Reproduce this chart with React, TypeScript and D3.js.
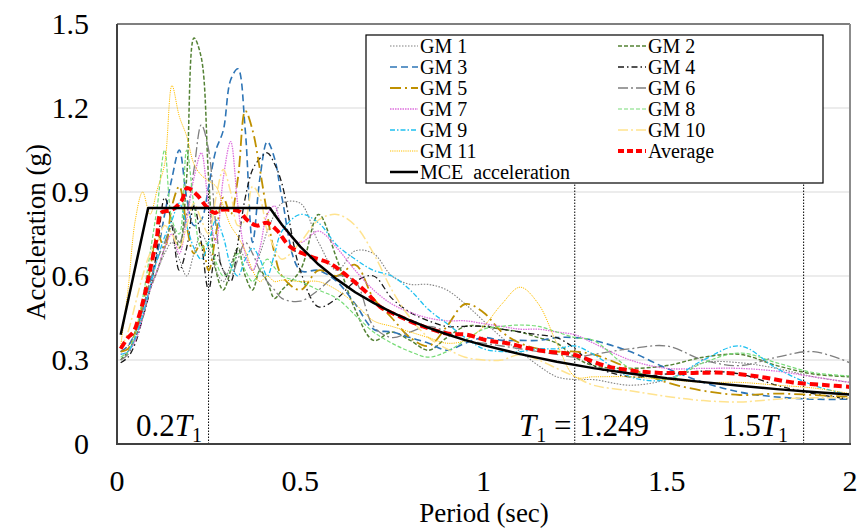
import React from "react";
import * as d3 from "d3";

const periods = [0.01, 0.03, 0.05, 0.07, 0.09, 0.11, 0.13, 0.15, 0.17, 0.19, 0.21, 0.23, 0.25, 0.27, 0.29, 0.31, 0.33, 0.35, 0.37, 0.39, 0.41, 0.43, 0.45, 0.5, 0.55, 0.6, 0.65, 0.7, 0.75, 0.8, 0.85, 0.9, 0.95, 1.0, 1.05, 1.1, 1.15, 1.2, 1.25, 1.3, 1.4, 1.5, 1.6, 1.7, 1.8, 1.9, 2.0];

const gm1 = [0.33, 0.35, 0.40, 0.48, 0.56, 0.62, 0.68, 0.72, 0.66, 0.60, 0.68, 0.75, 0.70, 0.62, 0.58, 0.64, 0.70, 0.66, 0.62, 0.68, 0.76, 0.82, 0.86, 0.86, 0.72, 0.62, 0.69, 0.68, 0.60, 0.57, 0.57, 0.55, 0.50, 0.44, 0.38, 0.33, 0.28, 0.24, 0.23, 0.23, 0.21, 0.23, 0.29, 0.29, 0.27, 0.24, 0.22];
const gm2 = [0.30, 0.33, 0.38, 0.45, 0.55, 0.62, 0.70, 0.78, 0.70, 0.95, 1.45, 1.38, 0.95, 0.62, 0.55, 0.62, 0.70, 0.60, 0.55, 0.62, 0.58, 0.52, 0.55, 0.62, 0.82, 0.66, 0.48, 0.37, 0.40, 0.37, 0.335, 0.38, 0.42, 0.42, 0.41, 0.40, 0.38, 0.36, 0.31, 0.28, 0.27, 0.28, 0.31, 0.32, 0.28, 0.25, 0.24];
const gm3 = [0.33, 0.35, 0.40, 0.48, 0.58, 0.68, 0.82, 0.95, 1.05, 0.88, 0.78, 0.80, 0.92, 1.05, 1.12, 1.30, 1.34, 1.12, 0.72, 0.95, 1.08, 1.02, 0.88, 0.62, 0.62, 0.58, 0.50, 0.41, 0.40, 0.38, 0.36, 0.335, 0.36, 0.38, 0.37, 0.37, 0.37, 0.38, 0.38, 0.37, 0.33, 0.27, 0.22, 0.185, 0.168, 0.16, 0.16];
const gm4 = [0.29, 0.31, 0.36, 0.45, 0.55, 0.70, 0.88, 0.78, 0.62, 0.70, 0.85, 0.72, 0.55, 0.68, 0.62, 0.58, 0.72, 0.88, 0.98, 1.02, 1.04, 1.00, 0.93, 0.62, 0.49, 0.52, 0.58, 0.60, 0.52, 0.47, 0.44, 0.42, 0.42, 0.42, 0.41, 0.40, 0.39, 0.38, 0.34, 0.28, 0.24, 0.25, 0.26, 0.25, 0.21, 0.18, 0.16];
const gm5 = [0.33, 0.34, 0.40, 0.50, 0.62, 0.75, 0.70, 0.85, 0.92, 0.78, 0.68, 0.72, 0.62, 0.75, 0.88, 0.82, 0.95, 1.19, 1.12, 0.98, 0.82, 0.68, 0.60, 0.55, 0.62, 0.60, 0.64, 0.52, 0.45, 0.38, 0.35, 0.42, 0.50, 0.47, 0.40, 0.36, 0.34, 0.33, 0.33, 0.32, 0.27, 0.22, 0.19, 0.175, 0.18, 0.175, 0.168];
const gm6 = [0.30, 0.32, 0.38, 0.48, 0.58, 0.66, 0.72, 0.78, 0.72, 0.82, 0.98, 1.14, 1.05, 0.78, 0.62, 0.60, 0.66, 0.72, 0.68, 0.62, 0.58, 0.55, 0.52, 0.51, 0.55, 0.60, 0.58, 0.42, 0.38, 0.40, 0.42, 0.40, 0.37, 0.36, 0.35, 0.34, 0.33, 0.32, 0.31, 0.32, 0.34, 0.35, 0.30, 0.28, 0.31, 0.33, 0.29];
const gm7 = [0.32, 0.33, 0.37, 0.45, 0.55, 0.62, 0.70, 0.75, 0.68, 0.80, 0.95, 1.04, 0.85, 0.72, 0.95, 1.08, 0.85, 0.68, 0.62, 0.70, 0.82, 0.85, 0.78, 0.72, 0.76, 0.70, 0.62, 0.55, 0.50, 0.47, 0.45, 0.44, 0.44, 0.43, 0.42, 0.41, 0.41, 0.40, 0.39, 0.36, 0.30, 0.27, 0.27, 0.27, 0.26, 0.24, 0.22];
const gm8 = [0.31, 0.33, 0.40, 0.52, 0.68, 0.85, 1.05, 0.80, 0.75, 1.05, 0.85, 0.70, 0.72, 0.65, 0.60, 0.62, 0.68, 0.62, 0.58, 0.62, 0.66, 0.63, 0.60, 0.58, 0.55, 0.52, 0.46, 0.40, 0.36, 0.33, 0.31, 0.33, 0.37, 0.41, 0.42, 0.425, 0.42, 0.40, 0.38, 0.37, 0.27, 0.23, 0.29, 0.325, 0.29, 0.255, 0.243];
const gm9 = [0.32, 0.33, 0.38, 0.46, 0.56, 0.66, 0.74, 0.80, 0.86, 0.78, 0.70, 0.66, 0.72, 0.80, 0.74, 0.64, 0.60, 0.66, 0.70, 0.66, 0.60, 0.68, 0.76, 0.82, 0.79, 0.71, 0.66, 0.62, 0.60, 0.55, 0.48, 0.43, 0.38, 0.34, 0.33, 0.33, 0.34, 0.34, 0.35, 0.32, 0.24, 0.23, 0.30, 0.35, 0.27, 0.21, 0.175];
const gm10 = [0.34, 0.40, 0.50, 0.60, 0.68, 0.72, 0.78, 0.75, 0.70, 0.78, 0.86, 0.80, 0.75, 0.88, 0.98, 0.90, 0.78, 0.80, 0.92, 0.88, 0.76, 0.70, 0.66, 0.72, 0.80, 0.82, 0.78, 0.68, 0.55, 0.45, 0.38, 0.34, 0.31, 0.30, 0.30, 0.32, 0.30, 0.27, 0.24, 0.21, 0.19, 0.17, 0.155, 0.15, 0.16, 0.165, 0.165];
const gm11 = [0.35, 0.55, 0.80, 0.90, 0.82, 0.91, 1.00, 1.28, 1.17, 1.10, 1.00, 0.96, 0.94, 0.92, 0.85, 0.78, 0.74, 0.69, 0.62, 0.58, 0.60, 0.58, 0.585, 0.58, 0.58, 0.55, 0.50, 0.44, 0.42, 0.40, 0.38, 0.36, 0.37, 0.42, 0.50, 0.56, 0.50, 0.36, 0.24, 0.24, 0.24, 0.23, 0.22, 0.22, 0.21, 0.20, 0.18];

const avgPeriods = [0.01, 0.03, 0.045, 0.063, 0.075, 0.09, 0.109, 0.12, 0.15, 0.177, 0.191, 0.218, 0.245, 0.267, 0.281, 0.316, 0.335, 0.355, 0.382, 0.409, 0.436, 0.472, 0.527, 0.581, 0.628, 0.682, 0.718, 0.772, 0.835, 0.9, 0.955, 1.01, 1.064, 1.119, 1.173, 1.244, 1.33, 1.392, 1.482, 1.572, 1.664, 1.754, 1.844, 1.937, 2.0];
const avgValues = [0.34, 0.38, 0.40, 0.47, 0.53, 0.62, 0.74, 0.825, 0.836, 0.87, 0.914, 0.89, 0.846, 0.825, 0.836, 0.836, 0.83, 0.80, 0.78, 0.79, 0.764, 0.705, 0.67, 0.645, 0.60, 0.54, 0.49, 0.455, 0.42, 0.395, 0.39, 0.37, 0.36, 0.343, 0.33, 0.32, 0.28, 0.264, 0.254, 0.254, 0.254, 0.24, 0.22, 0.21, 0.204];

const mcePeriods = [0.01, 0.085, 0.417, 0.45, 0.5, 0.55, 0.6, 0.65, 0.7, 0.75, 0.8, 0.85, 0.9, 0.95, 1.0, 1.1, 1.2, 1.3, 1.4, 1.5, 1.6, 1.7, 1.8, 1.9, 2.0];
const mceValues = [0.39, 0.843, 0.843, 0.783, 0.705, 0.641, 0.588, 0.542, 0.504, 0.470, 0.441, 0.415, 0.392, 0.371, 0.353, 0.321, 0.294, 0.271, 0.252, 0.235, 0.221, 0.208, 0.196, 0.186, 0.177];

const xTicks = [0, 0.5, 1, 1.5, 2];
const yTicks = [0, 0.3, 0.6, 0.9, 1.2, 1.5];
const markerPeriods = [0.2498, 1.249, 1.8735];

const gmNames = ["GM 1", "GM 2", "GM 3", "GM 4", "GM 5", "GM 6", "GM 7", "GM 8", "GM 9", "GM 10", "GM 11"];
const gmSeries = [gm1, gm2, gm3, gm4, gm5, gm6, gm7, gm8, gm9, gm10, gm11];
const gmColors = ["#808080", "#548235", "#2e75b6", "#1a1a1a", "#bf9000", "#7f7f7f", "#dd6fdd", "#78dc78", "#1ec0f0", "#ffe38f", "#ffc000"];
const gmDash = ["1.5,1.5", "4,2", "7,4", "6,3,1.5,3", "11,4,2,4", "10,3,2,3", "1.5,1", "4,2", "5,2,1.5,2", "10,3,2,3", "1.2,1"];
const gmWidth = [1.1, 1.5, 1.6, 1.3, 1.8, 1.3, 1.3, 1.2, 1.3, 1.5, 1.0];

const W = 857, H = 531;
const M = { left: 117, right: 850, top: 24, bottom: 444 };
const FONT = "'Liberation Serif', 'Times New Roman', serif";

export default function App() {
  const x = d3.scaleLinear().domain([0, 2]).range([M.left, M.right]);
  const y = d3.scaleLinear().domain([0, 1.5]).range([M.bottom, M.top]);
  const line = d3.line<[number, number]>().x(d => x(d[0])).y(d => y(d[1])).curve(d3.curveCatmullRom.alpha(0.5));
  const mceLine = d3.line<[number, number]>().x(d => x(d[0])).y(d => y(d[1]));

  const zip = (a: number[], b: number[]) => a.map((p, i) => [p, b[i]] as [number, number]);

  const legendX1 = 390, legendX2 = 618, sampleLen = 28, rowY0 = 46, rowH = 21;
  const legendItems: { name: string; color: string; dash?: string; width: number; col: number; row: number }[] = [];
  gmNames.forEach((n, i) => legendItems.push({ name: n, color: gmColors[i], dash: gmDash[i], width: gmWidth[i], col: i % 2, row: Math.floor(i / 2) }));
  legendItems.push({ name: "Average", color: "#ff0000", dash: "6,3", width: 4, col: 1, row: 5 });
  legendItems.push({ name: "MCE  acceleration", color: "#000", width: 2.5, col: 0, row: 6 });

  return (
    <svg width={W} height={H} style={{ position: "absolute", left: 0, top: 0, background: "#fff" }} fontFamily={FONT}>
      <defs>
        <clipPath id="plot">
          <rect x={M.left} y={M.top} width={M.right - M.left} height={M.bottom - M.top} />
        </clipPath>
      </defs>
      <rect x={0} y={0} width={W} height={H} fill="#fff" />
      {yTicks.filter(t => t > 0 && t < 1.5).map(t => (
        <line key={t} x1={M.left} x2={M.right} y1={y(t)} y2={y(t)} stroke="#d9d9d9" strokeWidth={1.2} />
      ))}
      {markerPeriods.map(p => (
        <line key={p} x1={x(p)} x2={x(p)} y1={y(0)} y2={y(0.93)} stroke="#000" strokeWidth={1} strokeDasharray="1.5,1.5" />
      ))}
      <g clipPath="url(#plot)" fill="none">
        {gmSeries.map((s, i) => (
          <path key={i} d={line(zip(periods, s)) || ""} stroke={gmColors[i]} strokeWidth={gmWidth[i]} strokeDasharray={gmDash[i]} />
        ))}
        <path d={line(zip(avgPeriods, avgValues)) || ""} stroke="#ff0000" strokeWidth={4} strokeDasharray="8,4" />
        <path d={mceLine(zip(mcePeriods, mceValues)) || ""} stroke="#000" strokeWidth={2.5} strokeLinejoin="round" />
      </g>
      {/* frame */}
      <line x1={M.left} x2={M.right} y1={M.top} y2={M.top} stroke="#000" strokeWidth={1.2} />
      <line x1={M.right} x2={M.right} y1={M.top} y2={M.bottom} stroke="#8c8c8c" strokeWidth={2} />
      <line x1={M.left} x2={M.right + 1} y1={M.bottom} y2={M.bottom} stroke="#404040" strokeWidth={2} />
      <line x1={M.left} x2={M.left} y1={M.top} y2={M.bottom + 1} stroke="#404040" strokeWidth={2} />
      {/* annotations */}
      <text x={136} y={436} fontSize={31} fill="#000">0.2<tspan fontStyle="italic">T</tspan><tspan fontSize={20} dy={6}>1</tspan></text>
      <text x={519} y={436} fontSize={31} fill="#000"><tspan fontStyle="italic">T</tspan><tspan fontSize={20} dy={6}>1</tspan><tspan dy={-6}>{" = 1.249"}</tspan></text>
      <text x={722} y={436} fontSize={31} fill="#000">1.5<tspan fontStyle="italic">T</tspan><tspan fontSize={20} dy={6}>1</tspan></text>
      {/* legend */}
      <rect x={366} y={35} width={457} height={148} fill="#fff" stroke="#000" strokeWidth={1.2} />
      {legendItems.map((it, i) => {
        const lx = it.col === 0 ? legendX1 : legendX2;
        const ly = rowY0 + it.row * rowH;
        return (
          <g key={i}>
            <line x1={lx} x2={lx + sampleLen} y1={ly} y2={ly} stroke={it.color} strokeWidth={it.width} strokeDasharray={it.dash} />
            <text x={lx + 30} y={ly + 7} fontSize={20} fill="#000" style={{ whiteSpace: "pre" }}>{it.name}</text>
          </g>
        );
      })}
      {/* axes labels */}
      {yTicks.map(t => (
        <text key={t} x={89} y={y(t) + 10} fontSize={30} textAnchor="end" fill="#000">{String(t)}</text>
      ))}
      {xTicks.map(t => (
        <text key={t} x={x(t)} y={491} fontSize={30} textAnchor="middle" fill="#000">{String(t)}</text>
      ))}
      <text x={484} y={522} fontSize={27} textAnchor="middle" fill="#000">Period (sec)</text>
      <text transform={`translate(45,232) rotate(-90)`} fontSize={27} textAnchor="middle" fill="#000">Acceleration (g)</text>
    </svg>
  );
}
